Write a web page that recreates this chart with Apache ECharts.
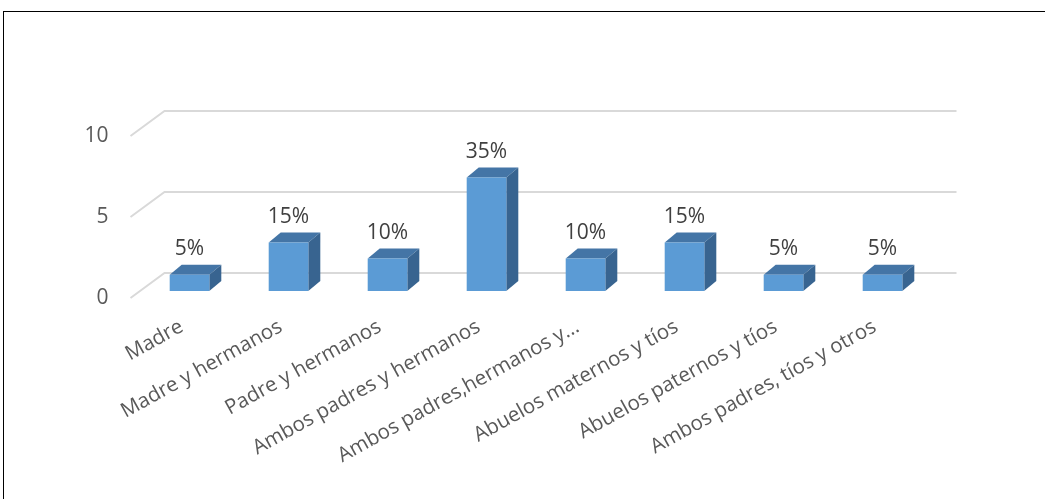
<!DOCTYPE html>
<html><head><meta charset="utf-8">
<script src="https://cdn.jsdelivr.net/npm/echarts@6/dist/echarts.min.js"></script>
<style>
html,body{margin:0;padding:0;background:#fff;}
#frame{position:absolute;left:3px;top:11px;width:1100px;height:600px;border:1.5px solid #000;box-sizing:border-box;}
#c{position:absolute;left:0;top:0;width:1045px;height:499px;}
</style></head>
<body>
<div id="frame"></div>
<div id="c"></div>
<script>
var categories = ["Madre","Madre y hermanos","Padre y hermanos","Ambos padres y hermanos","Ambos padres,hermanos y…","Abuelos maternos y tíos","Abuelos paternos y tíos","Ambos padres, tíos y otros"];
var values = [1,3,2,7,2,3,1,1];
var percentLabels = ["5%","15%","10%","35%","10%","15%","5%","5%"];
var yTicks = [0,5,10];

var FONT = "'Open Sans', sans-serif";
var FRONT_DX = -9.5, FRONT_DY = 7, BACK_DX = 24.5, BACK_DY = -18;
var BAR_DX = 12, BAR_DY = -10;

var chart = echarts.init(document.getElementById('c'));
chart.setOption({
  animation:false,
  grid:[
    {left:140, right:113, top:129, bottom:208},
    {left:130.5, right:122.5, top:136, bottom:201}
  ],
  xAxis:[
    {type:'category', gridIndex:0, data:categories,
     axisLine:{show:false}, axisTick:{show:false},
     axisLabel:{rotate:29, margin:30, padding:[0,9,0,0], color:'#595959', fontSize:20.5, fontFamily:FONT, interval:0}},
    {type:'category', gridIndex:1, data:categories, show:false}
  ],
  yAxis:[
    {type:'value', gridIndex:0, min:0, max:10, interval:5, show:false, splitLine:{show:false}},
    {type:'value', gridIndex:1, min:0, max:10, interval:5,
     axisLine:{show:false}, axisTick:{show:false}, splitLine:{show:false},
     axisLabel:{margin:22, color:'#595959', fontSize:21, fontFamily:FONT}}
  ],
  series:[
    {
      type:'custom', xAxisIndex:0, yAxisIndex:0, z:1, silent:true,
      data: yTicks.map(function(t){return [0,t];}),
      encode:{x:0,y:1},
      renderItem:function(params, api){
        var cs = params.coordSys;
        var y = api.coord([0, api.value(1)])[1];
        var x0 = cs.x, x1 = cs.x + cs.width;
        return {type:'polyline', shape:{points:[[x0+FRONT_DX, y+FRONT_DY],[x0+BACK_DX, y+BACK_DY],[x1+BACK_DX, y+BACK_DY]]},
          style:{stroke:'#d9d9d9', lineWidth:2, fill:null}};
      }
    },
    {
      type:'custom', xAxisIndex:0, yAxisIndex:0, z:2, silent:true,
      data: values.map(function(v,i){return [i,v];}),
      encode:{x:0,y:1},
      renderItem:function(params, api){
        var i = api.value(0), v = api.value(1);
        var top = api.coord([i, v]);
        var bot = api.coord([i, 0]);
        var w = api.size([1,0])[0]*0.4;
        var xl = top[0]-w/2, xr = top[0]+w/2;
        var yt = top[1], yb = bot[1];
        return {type:'group', children:[
          {type:'polygon', shape:{points:[[xl,yt],[xr,yt],[xr+BAR_DX,yt+BAR_DY],[xl+BAR_DX,yt+BAR_DY]]}, style:{fill:'#4475a6'}},
          {type:'polygon', shape:{points:[[xr,yt],[xr+BAR_DX,yt+BAR_DY],[xr+BAR_DX,yb+BAR_DY],[xr,yb]]}, style:{fill:'#386490'}},
          {type:'rect', shape:{x:xl, y:yt, width:w, height:yb-yt}, style:{fill:'#5b9bd5'}},
          {type:'text', x:top[0], y:yt+BAR_DY-5, style:{text:percentLabels[i], textAlign:'center', textVerticalAlign:'bottom', fill:'#404040', fontSize:21, fontFamily:FONT}}
        ]};
      }
    }
  ]
});
</script>
</body></html>
